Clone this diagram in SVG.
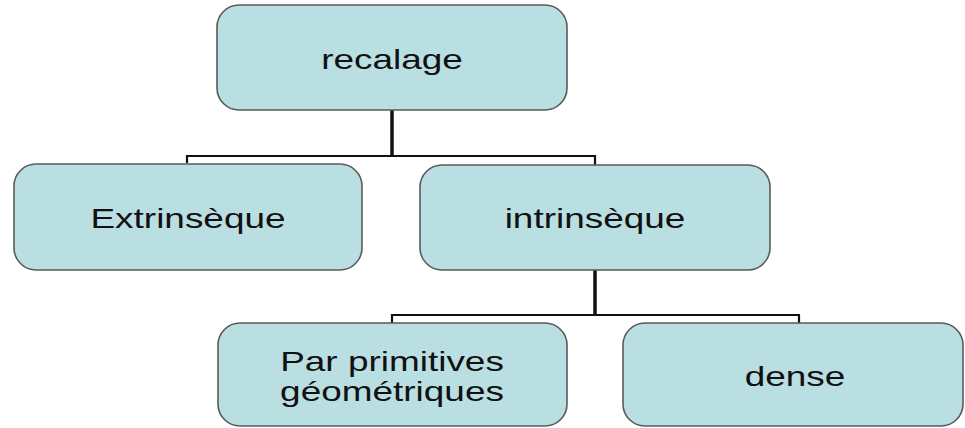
<svg xmlns="http://www.w3.org/2000/svg" width="965" height="428" viewBox="0 0 965 428">
<style>
.box{fill:#b9dfe2;stroke:#5a5a5a;stroke-width:1.6}
.lbl{font-family:"Liberation Sans",Arial,sans-serif;font-size:28px;fill:#111;text-anchor:middle}
.trunk{stroke:#111;stroke-width:3.5;fill:none}
.branch{stroke:#111;stroke-width:2.2;fill:none}
</style>
<rect width="965" height="428" fill="#ffffff"/>
<g id="connectors">
<line class="trunk" x1="392" y1="110" x2="392" y2="156"/>
<polyline class="branch" points="187,163 187,156 595,156 595,165"/>
<line class="trunk" x1="595" y1="270" x2="595" y2="315"/>
<polyline class="branch" points="392,323 392,315 799,315 799,323"/>
</g>
<g id="recalage">
<rect class="box" x="217" y="5" width="350" height="105" rx="22"/>
<text class="lbl" transform="translate(392,69) scale(1.32,1)">recalage</text>
</g>
<g id="extrinseque">
<rect class="box" x="14" y="164" width="348" height="106" rx="22"/>
<text class="lbl" transform="translate(188,228) scale(1.32,1)">Extrinsèque</text>
</g>
<g id="intrinseque">
<rect class="box" x="420" y="165" width="350" height="105" rx="22"/>
<text class="lbl" transform="translate(595,228) scale(1.32,1)">intrinsèque</text>
</g>
<g id="primitives">
<rect class="box" x="218" y="323" width="349" height="103" rx="22"/>
<text class="lbl" transform="translate(392,371) scale(1.32,1)">Par primitives</text>
<text class="lbl" transform="translate(392,401) scale(1.32,1)">géométriques</text>
</g>
<g id="dense">
<rect class="box" x="623" y="323" width="340" height="103" rx="22"/>
<text class="lbl" transform="translate(795,386) scale(1.32,1)">dense</text>
</g>
</svg>
